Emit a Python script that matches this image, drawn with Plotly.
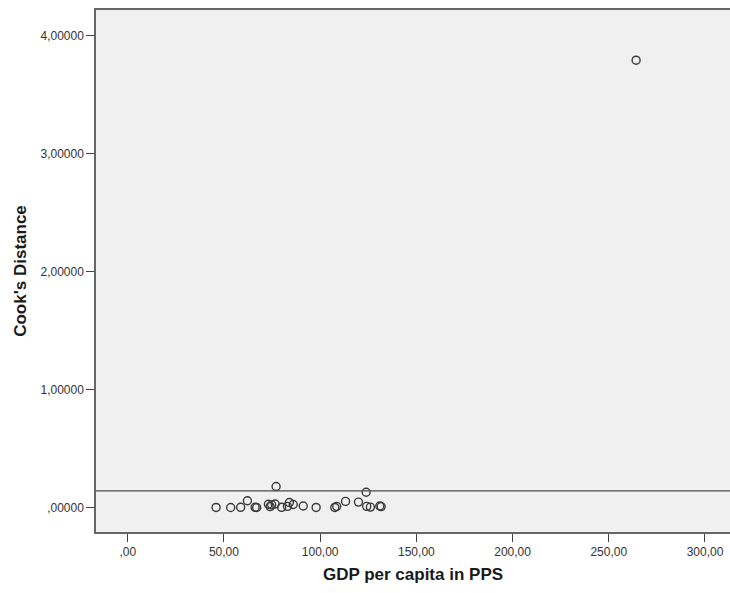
import plotly.graph_objects as go

# GDP per capita (PPS) and Cook's distance per observation
gdp_pps = [45.9, 53.5, 58.7, 62.2, 66.2, 67.0, 73.1, 74.0, 74.8, 76.6, 77.1,
           80.0, 83.0, 84.0, 86.0, 91.2, 97.9, 107.6, 108.6, 113.2, 119.9,
           123.9, 124.2, 126.1, 131.0, 131.7, 264.2]
cooks_d = [0.003, 0.002, 0.004, 0.060, 0.004, 0.002, 0.030, 0.010, 0.025,
           0.032, 0.180, 0.004, 0.012, 0.045, 0.028, 0.015, 0.003, 0.003,
           0.012, 0.054, 0.048, 0.132, 0.012, 0.006, 0.015, 0.010, 3.790]

# Cut-off line 4/n
cutoff = 0.143

x_ticks = [0, 50, 100, 150, 200, 250, 300]
x_tick_text = [",00", "50,00", "100,00", "150,00", "200,00", "250,00", "300,00"]
y_ticks = [0, 1, 2, 3, 4]
y_tick_text = [",00000", "1,00000", "2,00000", "3,00000", "4,00000"]

fig = go.Figure()
fig.add_trace(go.Scatter(
    x=gdp_pps, y=cooks_d, mode="markers",
    marker=dict(symbol="circle-open", size=8, color="#3a3a3a",
                line=dict(width=1.4, color="#3a3a3a")),
    hoverinfo="x+y", showlegend=False,
))

fig.add_shape(type="line", xref="paper", x0=0, x1=1, yref="y",
              y0=cutoff, y1=cutoff, line=dict(color="#4a4a4a", width=1.3))

fig.update_layout(
    width=730, height=593,
    margin=dict(l=96, r=0, t=10, b=61),
    paper_bgcolor="white", plot_bgcolor="#f0f0f0",
    font=dict(family="Liberation Sans, Arial, sans-serif", color="#333333", size=12),
    xaxis=dict(
        range=[-16.5, 313], tickvals=x_ticks, ticktext=x_tick_text,
        ticks="outside", ticklen=8, tickwidth=1.2, tickcolor="#444444",
        showline=True, linecolor="#666666", linewidth=1.5, mirror=True,
        showgrid=False, zeroline=False,
        title=dict(text="<b>GDP per capita in PPS</b>", standoff=10,
                   font=dict(size=17, color="#1a1a1a")),
    ),
    yaxis=dict(
        range=[-0.205, 4.215], tickvals=y_ticks, ticktext=y_tick_text,
        ticks="outside", ticklen=8, tickwidth=1.2, tickcolor="#444444",
        showline=True, linecolor="#666666", linewidth=1.5, mirror=False,
        showgrid=False, zeroline=False,
        title=dict(text="<b>Cook's Distance</b>", standoff=10,
                   font=dict(size=17, color="#1a1a1a")),
    ),
)

fig.write_html("out.html")
